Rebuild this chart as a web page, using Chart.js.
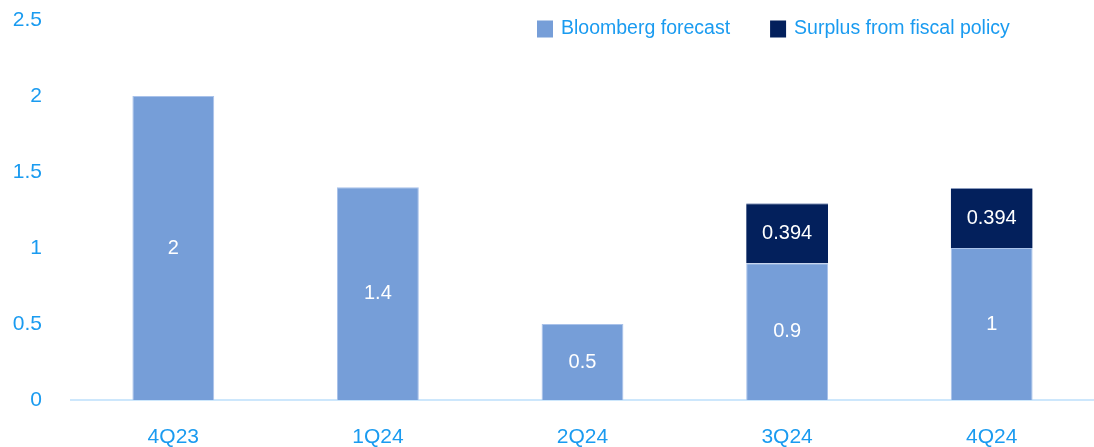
<!DOCTYPE html>
<html>
<head>
<meta charset="utf-8">
<script src="https://cdn.jsdelivr.net/npm/chart.js@4.4.0/dist/chart.umd.min.js"></script>
<style>
  html, body { margin: 0; padding: 0; background: #ffffff; }
  #wrap { width: 1094px; height: 447px; position: relative; }
</style>
</head>
<body>
<div id="wrap"><canvas id="c"></canvas></div>
<script>
const categories = ["4Q23", "1Q24", "2Q24", "3Q24", "4Q24"];
const bloombergForecast = [2, 1.4, 0.5, 0.9, 1];
const fiscalSurplus = [null, null, null, 0.394, 0.394];
const yTicks = [0, 0.5, 1, 1.5, 2, 2.5];

const FONT = "'Liberation Sans', Arial, sans-serif";
const TICK_SIZE = 21;
const LABEL_SIZE = 20;
const LEGEND_SIZE = 19.5;
const TEXT_BLUE = "#1a9bf0";

const barLabels = {
  id: "barLabels",
  afterDatasetsDraw(chart) {
    const ctx = chart.ctx;
    ctx.save();
    ctx.fillStyle = "#ffffff";
    ctx.font = LABEL_SIZE + "px " + FONT;
    ctx.textAlign = "center";
    ctx.textBaseline = "middle";
    chart.data.datasets.forEach((ds, di) => {
      const meta = chart.getDatasetMeta(di);
      meta.data.forEach((el, i) => {
        const v = ds.data[i];
        if (v === null || v === undefined) return;
        const p = el.getProps(["x", "y", "base"], true);
        ctx.fillText(String(v), p.x, (p.y + p.base) / 2);
      });
    });
    ctx.restore();
  }
};

const topLegend = {
  id: "topLegend",
  afterDraw(chart) {
    const ctx = chart.ctx;
    ctx.save();
    ctx.font = LEGEND_SIZE + "px " + FONT;
    ctx.textBaseline = "middle";
    ctx.textAlign = "left";
    let x = 537;
    const yMid = 29;
    chart.data.datasets.forEach((ds) => {
      ctx.fillStyle = ds.backgroundColor;
      ctx.fillRect(x, yMid - 8.5, 16, 17);
      ctx.fillStyle = TEXT_BLUE;
      const tx = x + 24;
      ctx.fillText(ds.label, tx, yMid);
      x = tx + ctx.measureText(ds.label).width + 40;
    });
    ctx.restore();
  }
};

new Chart(document.getElementById("c"), {
  type: "bar",
  data: {
    labels: categories,
    datasets: [
      {
        label: "Bloomberg forecast",
        data: bloombergForecast,
        backgroundColor: "#769ed8",
        borderColor: "#a9c2ea",
        borderWidth: 1,
        categoryPercentage: 1,
        barPercentage: 0.4
      },
      {
        label: "Surplus from fiscal policy",
        data: fiscalSurplus,
        backgroundColor: "#03205c",
        borderColor: "#8a9bbd",
        borderWidth: { top: 1, left: 0, right: 0, bottom: 0 },
        categoryPercentage: 1,
        barPercentage: 0.4
      }
    ]
  },
  options: {
    responsive: true,
    maintainAspectRatio: false,
    animation: false,
    layout: { padding: { top: 0, left: 10, right: 0, bottom: 0 } },
    plugins: {
      tooltip: { enabled: false },
      legend: { display: false }
    },
    scales: {
      x: {
        stacked: true,
        grid: { display: false, drawTicks: false },
        border: { display: true, color: "#cde7fc", width: 2 },
        ticks: {
          color: TEXT_BLUE,
          font: { family: FONT, size: TICK_SIZE },
          padding: 25
        },
        afterFit(scale) {
          scale.height = 47;
          scale.paddingLeft = 0;
          scale.paddingRight = 0;
        }
      },
      y: {
        stacked: true,
        min: 0,
        max: 2.5,
        afterBuildTicks(axis) { axis.ticks = yTicks.map(v => ({ value: v })); },
        grid: { display: false, drawTicks: false },
        border: { display: false },
        ticks: {
          color: TEXT_BLUE,
          font: { family: FONT, size: TICK_SIZE },
          padding: 29,
          callback: v => String(v)
        },
        afterFit(scale) {
          scale.width = 61;
          scale.paddingTop = 20;
          scale.paddingBottom = 0;
        }
      }
    }
  },
  plugins: [barLabels, topLegend]
});
</script>
</body>
</html>
